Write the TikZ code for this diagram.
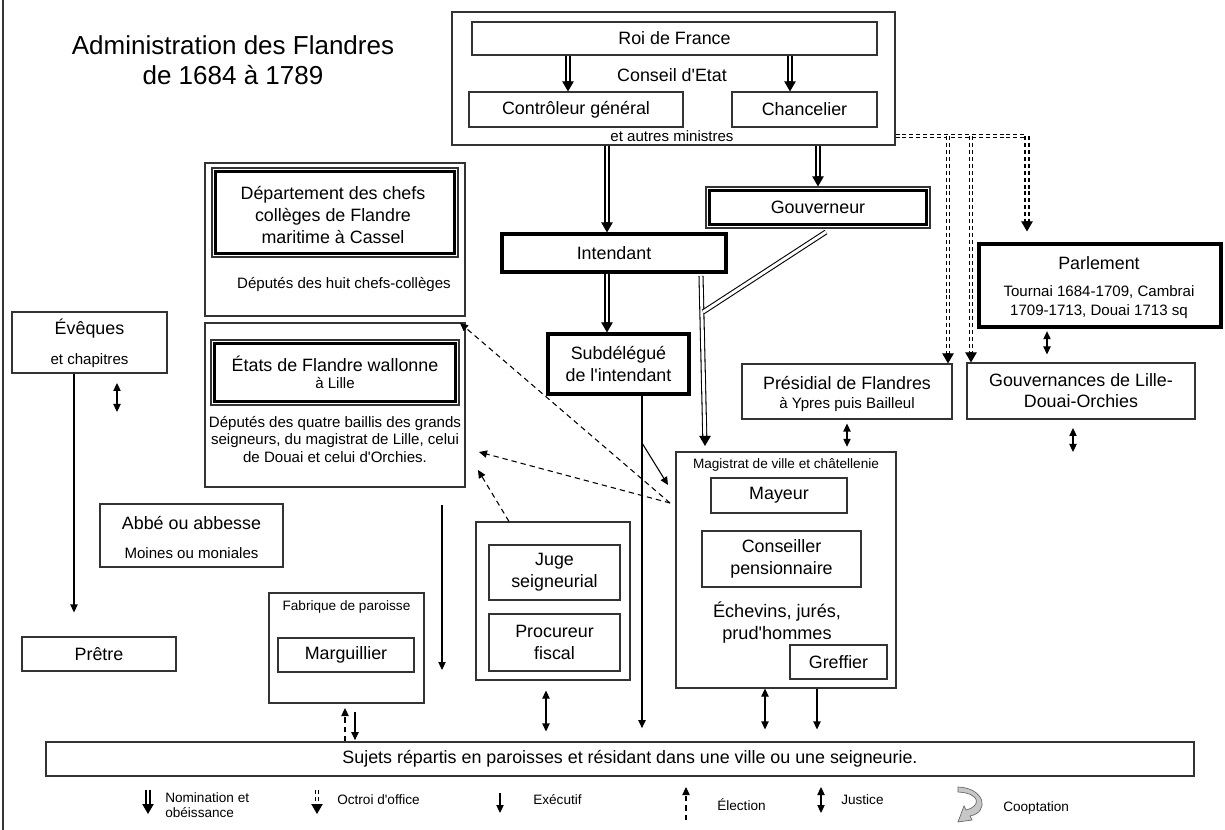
\documentclass[tikz,border=0pt]{standalone}
\usepackage{fontspec}
\setmainfont{Liberation Sans}
\usetikzlibrary{arrows.meta,fit,calc}
\newcommand\FMain{\fontsize{13.4}{16.2}\selectfont}
\newcommand\FSmall{\fontsize{11.3}{13.2}\selectfont}
\newcommand\FTiny{\fontsize{10.2}{11.2}\selectfont}
\newcommand\FTitle{\fontsize{19.5}{22.5}\selectfont}
\newcommand\Ap{\textquotesingle}
\newcommand\DblArrow[3]{\draw[#1, shorten >=6pt] #2 -- #3; \draw[nomtip] ($#3+(0,-10)$) -- #3;}
\begin{document}
\begin{tikzpicture}[x=0.75pt,y=-0.75pt,
  box/.style={draw=black!80, line width=0.8pt, inner sep=0pt},
  tbox/.style={draw=black, line width=2.3pt, inner sep=0pt},
  lbl/.style={inner sep=0pt, align=center, font=\FMain},
  slbl/.style={inner sep=0pt, align=center, font=\FSmall},
  tlbl/.style={inner sep=0pt, align=left, font=\FTiny, anchor=west},
  nomA/.style={double, double distance=2.2pt, line width=0.8pt},
  nomB/.style={double, double distance=1.5pt, line width=1.5pt},
  nomtip/.style={-{Triangle[length=7.5pt,width=8.5pt]}, line width=0.8pt},
  octA/.style={double, double distance=1.6pt, line width=0.8pt, dash pattern=on 3pt off 2.2pt},
  octB/.style={double, double distance=1.5pt, line width=1.5pt, dash pattern=on 3pt off 2.2pt},
  exec/.style={line width=0.8pt, -{Triangle[length=6pt,width=5.5pt]}},
  elect/.style={line width=0.8pt, dash pattern=on 4pt off 3pt, -{Triangle[length=6pt,width=5.5pt]}},
  just/.style={line width=0.8pt, {Triangle[length=6pt,width=5.5pt]}-{Triangle[length=6pt,width=5.5pt]}},
]
\useasboundingbox (0,0) rectangle (1225,830);
\fill[white] (0,0) rectangle (1225,830);
\draw[line width=0.8pt, black!80] (3,0) -- (3,830);

% title
\node[inner sep=0pt, align=center, font=\FTitle] (title) at (233,60) {Administration des Flandres\\de 1684 à 1789};

% top block
\node[box, fit={(452,12) (895,145)}] (conseil) {};
\node[box, fit={(472,22) (877,55)}] (roi) {};
\node[lbl] (roit) at (roi.center) {Roi de France};
\node[lbl] (ce) at (672,75) {Conseil d\Ap Etat};
\node[box, fit={(469,92) (683,127)}] (ctrl) {};
\node[lbl] (ctrlt) at (ctrl.center) {Contrôleur général};
\node[box, fit={(732,92) (877,127)}] (chanc) {};
\node[lbl] (chanct) at (chanc.center) {Chancelier};
\node[slbl] (autres) at (672,136) {et autres ministres};

% gouverneur, intendant, subdelegue
\node[box, fit={(706,187) (930,228)}] (gouv) {};
\draw[line width=2.2pt] ($(gouv.north west)+(4,4)$) rectangle ($(gouv.south east)+(-4,-4)$);
\node[lbl] (gouvt) at (gouv.center) {Gouverneur};
\node[tbox, fit={(502,234) (726,272)}] (intend) {};
\node[lbl] (intendt) at (intend.center) {Intendant};
\node[tbox, fit={(548,334) (689,394)}] (subd) {};
\node[lbl] (subdt) at (subd.center) {Subdélégué\\de l\Ap intendant};

% parlement, presidial, gouvernances
\node[tbox, fit={(979,244) (1221,327)}] (parl) {};
\node[lbl] (parlt) at (1099,263) {Parlement};
\node[slbl, font=\fontsize{11.3}{14.3}\selectfont] (parls) at (1099,302.5) {Tournai 1684-1709, Cambrai\\1709-1713, Douai 1713 sq};
\node[box, fit={(742,364) (952,419)}] (presid) {};
\node[lbl] (presidt) at (847,383) {Présidial de Flandres};
\node[slbl] (presids) at (847,405) {à Ypres puis Bailleul};
\node[box, fit={(967,363) (1195,419)}] (gouvn) {};
\node[lbl, font=\fontsize{13.4}{15.8}\selectfont] (gouvnt) at (gouvn.center) {Gouvernances de Lille-\\Douai-Orchies};

% departement
\node[box, fit={(205,163) (465,316)}] (dept) {};
\node[box, fit={(212,168) (458,257)}] (depti) {};
\draw[line width=2.4pt] ($(depti.north west)+(4,4)$) rectangle ($(depti.south east)+(-4,-4)$);
\node[lbl] (deptt) at (333,215) {Département des chefs\\collèges de Flandre\\maritime à Cassel};
\node[slbl] (deptd) at (344,285) {Députés des huit chefs-collèges};

% etats
\node[box, fit={(205,323) (465,487)}] (etats) {};
\node[box, fit={(211,340) (459,405)}] (etatsi) {};
\draw[line width=2.4pt] ($(etatsi.north west)+(4,4)$) rectangle ($(etatsi.south east)+(-4,-4)$);
\node[lbl] (etatst) at (335,364) {États de Flandre wallonne};
\node[slbl] (etatss) at (335,383) {à Lille};
\node[slbl, font=\fontsize{11.3}{13.1}\selectfont] (etatsd) at (335,439.5) {Députés des quatre baillis des grands\\seigneurs, du magistrat de Lille, celui\\de Douai et celui d\Ap Orchies.};

% church
\node[box, fit={(12,312) (167,373)}] (eveq) {};
\node[lbl] (eveqt) at (89.5,329) {Évêques};
\node[slbl] (eveqs) at (89.5,361) {et chapitres};
\node[box, fit={(100,504) (283,567)}] (abbe) {};
\node[lbl] (abbet) at (191.5,523) {Abbé ou abbesse};
\node[slbl] (abbes) at (191.5,553) {Moines ou moniales};
\node[box, fit={(22,637) (176,671)}] (pretre) {};
\node[lbl] (pretret) at (pretre.center) {Prêtre};

% fabrique
\node[box, fit={(269,593) (424,703)}] (fab) {};
\node[inner sep=0pt, font=\FTiny] (fabt) at (346.5,607) {Fabrique de paroisse};
\node[box, fit={(278,638) (414,672)}] (marg) {};
\node[lbl] (margt) at (marg.center) {Marguillier};

% juge
\node[box, fit={(476,522) (630,680)}] (jugeo) {};
\node[box, fit={(489,545) (620,600)}] (juge) {};
\node[lbl] (juget) at (juge.center) {Juge\\seigneurial};
\node[box, fit={(489,614) (620,671)}] (proc) {};
\node[lbl] (proct) at (proc.center) {Procureur\\fiscal};

% magistrat
\node[box, fit={(676,452) (896,688)}] (mag) {};
\node[inner sep=0pt, font=\FTiny] (magt) at (786,465) {Magistrat de ville et châtellenie};
\node[box, fit={(711,478) (847,513)}] (mayeur) {};
\node[lbl] (mayeurt) at (mayeur.center) {Mayeur};
\node[box, fit={(702,531) (861,587)}] (cons) {};
\node[lbl] (const) at (cons.center) {Conseiller\\pensionnaire};
\node[lbl, font=\fontsize{13.6}{15.8}\selectfont] (echev) at (777,622.5) {Échevins, jurés,\\prud\Ap hommes};
\node[box, fit={(790,645) (887,679)}] (greffier) {};
\node[lbl] (greffiert) at (greffier.center) {Greffier};

% sujets
\node[box, fit={(46,742) (1194,776)}] (sujets) {};
\node[lbl] (sujetst) at (630,759) {Sujets répartis en paroisses et résidant dans une ville ou une seigneurie.};

% helper coordinates
\coordinate (xa) at (568,0);
\coordinate (xb) at (790,0);
\coordinate (xc) at (607,0);
\coordinate (oy) at (0,136);
\coordinate (ox1) at (948,0);
\coordinate (ox2) at (971,0);
\coordinate (ox3) at (1027,0);

% nomination arrows
\DblArrow{nomA}{(roi.south -| xa)}{(ctrl.north -| xa)}
\DblArrow{nomB}{(roi.south -| xb)}{(chanc.north -| xb)}
\DblArrow{nomB}{(conseil.south -| xc)}{(intend.north -| xc)}
\DblArrow{nomA}{(conseil.south -| gouv.north)}{(gouv.north)}
\DblArrow{nomA, line width=1pt}{(intend.south -| xc)}{(subd.north -| xc)}
\coordinate (iA) at (701,276);
\coordinate (iB) at (705,446);
\DblArrow{nomA}{(iA)}{(iB)}
\coordinate (gA) at (826,232);
\coordinate (gB) at (703,312);
\draw[nomA] (gA) -- (gB);

% octroi d'office
\draw[octA] (conseil.east |- oy) -- (ox3 |- oy);
\DblArrow{octA}{(ox1 |- oy)}{(presid.north -| ox1)}
\DblArrow{octA}{(ox2 |- oy)}{(gouvn.north -| ox2)}
\coordinate (pE) at ($(parl.north -| ox3)+(0,-11)$);
\DblArrow{octB}{(ox3 |- oy)}{(pE)}

% executif
\coordinate (x74) at (74,0);
\draw[exec, shorten >=18pt] (eveq.south -| x74) -- (pretre.north -| x74);
\coordinate (fA) at (442,505);
\coordinate (fB) at (442,670);
\draw[exec] (fA) -- (fB);
\coordinate (x642) at (642,0);
\draw[exec, shorten >=10pt] (subd.south -| x642) -- (sujets.north -| x642);
\coordinate (sbA) at (642,443);
\coordinate (sbB) at (668,485);
\draw[exec] (sbA) -- (sbB);
\coordinate (x817) at (817,0);
\draw[exec, shorten >=9pt] (mag.south -| x817) -- (sujets.north -| x817);
\coordinate (fdA) at (355,712);
\draw[exec, shorten >=1pt] (fdA) -- (sujets.north -| fdA);

% justice
\coordinate (jE1) at (117,383);
\coordinate (jE2) at (117,412);
\draw[just] (jE1) -- (jE2);
\draw[just, shorten <=3pt, shorten >=3.5pt] (presid.south) -- (mag.north -| presid.south);
\coordinate (x1047) at (1047,0);
\draw[just, shorten <=2pt, shorten >=6pt] (parl.south -| x1047) -- (gouvn.north -| x1047);
\coordinate (jG1) at (1073,428);
\coordinate (jG2) at (1073,452);
\draw[just] (jG1) -- (jG2);
\coordinate (x546) at (546,0);
\draw[just, shorten <=7.5pt, shorten >=7.5pt] (jugeo.south -| x546) -- (sujets.north -| x546);
\coordinate (x765) at (765,0);
\draw[just, shorten >=9pt] (mag.south -| x765) -- (sujets.north -| x765);

% election
\coordinate (x509) at (509,0);
\coordinate (eJ) at (478,470);
\draw[elect] (jugeo.north -| x509) -- (eJ);
\coordinate (eM) at (670,503);
\coordinate (eD) at (460,323);
\coordinate (eS) at (479,452);
\draw[elect] (eM) -- (eD);
\draw[elect] (eM) -- (eS);
\coordinate (fuA) at (345,708);
\draw[elect] (sujets.north -| fuA) -- (fuA);

% legend
\coordinate (lg1a) at (148,790);
\coordinate (lg1b) at (148,814);
\DblArrow{nomA}{(lg1a)}{(lg1b)}
\node[tlbl] (lgt1) at (165,805) {Nomination et\\obéissance};
\coordinate (lg2a) at (317,790);
\coordinate (lg2b) at (317,814);
\DblArrow{octA}{(lg2a)}{(lg2b)}
\node[tlbl] (lgt2) at (337,800) {Octroi d\Ap office};
\coordinate (lg3a) at (500,793);
\coordinate (lg3b) at (500,813);
\draw[exec] (lg3a) -- (lg3b);
\node[tlbl] (lgt3) at (533,800) {Exécutif};
\coordinate (lg4a) at (686,820);
\coordinate (lg4b) at (686,787);
\draw[elect] (lg4a) -- (lg4b);
\node[tlbl] (lgt4) at (717,805) {Élection};
\coordinate (lg5a) at (821,787);
\coordinate (lg5b) at (821,813);
\draw[just] (lg5a) -- (lg5b);
\node[tlbl] (lgt5) at (841,800) {Justice};
\draw[draw=black!60, fill=black!22, line width=0.5pt]
  (958,787) .. controls (985,788) and (990,812) .. (970,816)
  -- (972,820) -- (958,822) -- (964,806) -- (966,810)
  .. controls (982,806) and (980,793) .. (958,792) -- cycle;
\node[tlbl] (lgt6) at (1003,808) {Cooptation};
\end{tikzpicture}
\end{document}
